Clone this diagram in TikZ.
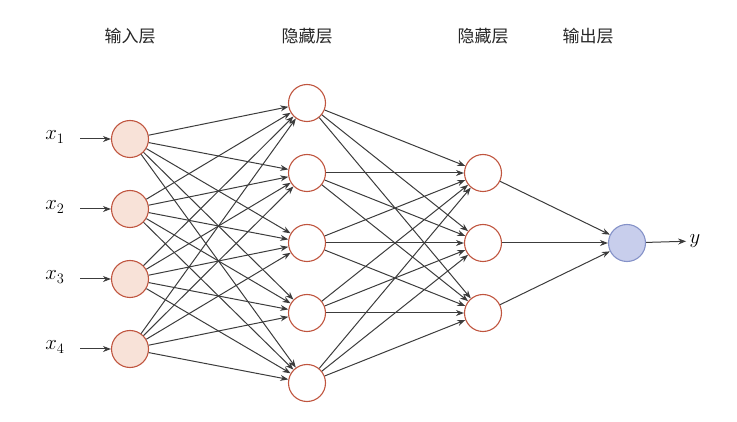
\documentclass[tikz,border=0pt]{standalone}
\usepackage{fontspec}
\newfontfamily\cjk{Noto Sans CJK SC}
\usetikzlibrary{arrows.meta}
\definecolor{nb}{HTML}{C0553F}
\definecolor{nf}{HTML}{F8E2D8}
\definecolor{ob}{HTML}{8592C8}
\definecolor{of}{HTML}{C8CEEC}
\definecolor{ed}{HTML}{3C3C3C}
\begin{document}
\begin{tikzpicture}[x=1pt,y=-1pt,
  neu/.style={circle,draw=nb,line width=1.1pt,minimum size=37pt,inner sep=0pt},
  con/.style={-{Stealth[length=8pt,width=6pt]},draw=ed,line width=1pt},
  ttl/.style={font=\cjk\fontsize{17}{17}\selectfont,text=black!85}]
\useasboundingbox (0,0) rectangle (737,422);
\node[ttl] (t1) at (130,36) {输入层};
\node[ttl] (t2) at (307,36) {隐藏层};
\node[ttl] (t3) at (483,36) {隐藏层};
\node[ttl] (t4) at (588,36) {输出层};
\foreach \i in {1,...,4}{
  \node[neu,fill=nf] (a\i) at (130,{139+70*(\i-1)}) {};
  \node[font=\fontsize{20}{20}\selectfont] (x\i) at (55,{137+70*(\i-1)}) {$x_{\i}$};
  \coordinate (s\i) at (80,{139+70*(\i-1)});
  \draw[con] (s\i) -- (a\i);
}
\foreach \j in {1,...,5} \node[neu,fill=white] (b\j) at (307,{103+70*(\j-1)}) {};
\foreach \k in {1,...,3} \node[neu,fill=white] (c\k) at (483,{173+70*(\k-1)}) {};
\node[neu,fill=of,draw=ob] (o) at (627,243) {};
\node[font=\fontsize{20}{20}\selectfont] (y) at (695,241) {$y$};
\foreach \i in {1,...,4} \foreach \j in {1,...,5} \draw[con] (a\i) -- (b\j);
\foreach \j in {1,...,5} \foreach \k in {1,...,3} \draw[con] (b\j) -- (c\k);
\foreach \k in {1,...,3} \draw[con] (c\k) -- (o);
\draw[con] (o) -- (y);
\end{tikzpicture}
\end{document}
